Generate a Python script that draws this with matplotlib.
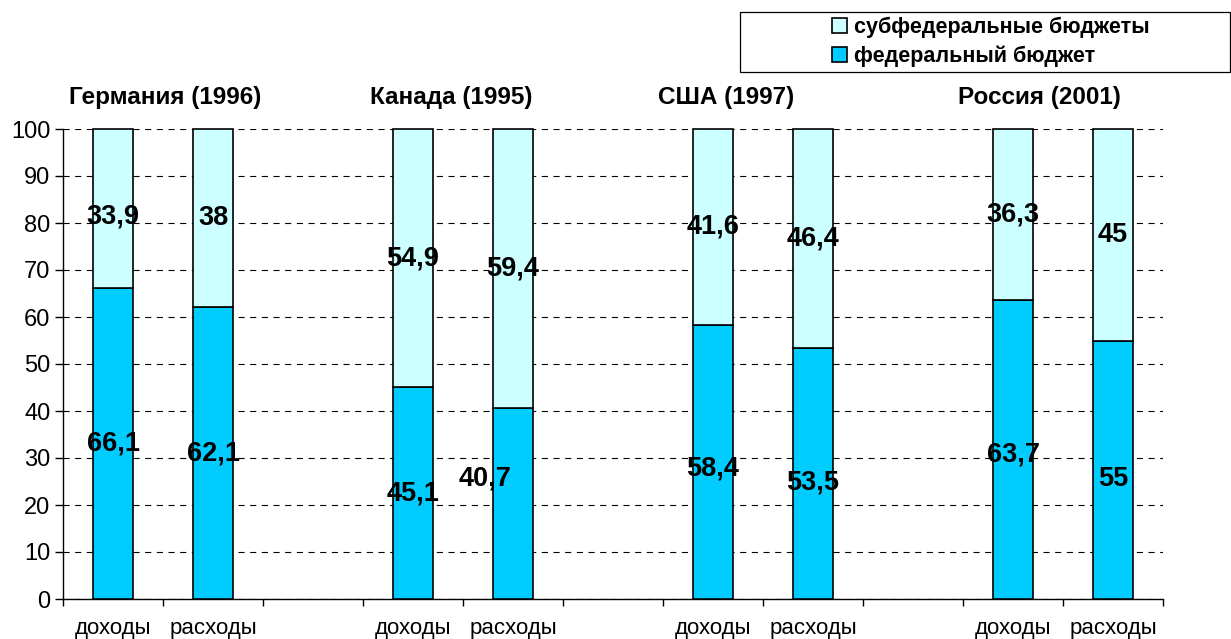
import matplotlib
matplotlib.use("Agg")
import matplotlib.pyplot as plt
from matplotlib.patches import Rectangle, Patch
import numpy as np

plt.rcParams['font.family'] = ['Liberation Sans', 'DejaVu Sans']

# ---- data ----
countries = ["Германия (1996)", "Канада (1995)", "США (1997)", "Россия (2001)"]
kinds = ["доходы", "расходы"]
federal = [66.1, 62.1, 45.1, 40.7, 58.4, 53.5, 63.7, 55.0]
subfederal = [33.9, 38.0, 54.9, 59.4, 41.6, 46.4, 36.3, 45.0]
federal_labels = ["66,1", "62,1", "45,1", "40,7", "58,4", "53,5", "63,7", "55"]
subfederal_labels = ["33,9", "38", "54,9", "59,4", "41,6", "46,4", "36,3", "45"]
series_names = ["субфедеральные бюджеты", "федеральный бюджет"]

# style
c_fed = "#00CCFF"
c_sub = "#CCFFFF"

W, H = 1231, 639
fig = plt.figure(figsize=(W / 100, H / 100), dpi=100)
ax = fig.add_axes([63 / W, 1 - 599 / H, 1100 / W, 470 / H])

# positions: 3 slots per country (last slot empty)
pos = []
for g in range(len(countries)):
    for k in range(len(kinds)):
        pos.append(g * 3 + k)
pos = np.array(pos)

ax.bar(pos, federal, width=0.4, color=c_fed, edgecolor="black", linewidth=1.2, zorder=3)
ax.bar(pos, subfederal, bottom=federal, width=0.4, color=c_sub, edgecolor="black",
       linewidth=1.2, zorder=3, clip_on=False)

# label nudges (x in slots, y in units)
nudge_fed = {3: (-0.28, 5.2), 4: (0, -1.5), 5: (0, -2.0), 6: (0, -1.0), 7: (0, -2.0)}
nudge_sub = {0: (0, -1.7)}
for i, x in enumerate(pos):
    dx, dy = nudge_fed.get(i, (0, 0))
    ax.text(x + dx, federal[i] / 2 + dy, federal_labels[i], ha="center", va="center",
            fontsize=19.5, fontweight="bold", zorder=5)
    dx, dy = nudge_sub.get(i, (0, 0))
    ax.text(x + dx, federal[i] + subfederal[i] / 2 + dy, subfederal_labels[i],
            ha="center", va="center", fontsize=19.5, fontweight="bold", zorder=5)

# group titles
title_x = [0.52, 3.38, 6.13, 9.26]
for tx, name in zip(title_x, countries):
    ax.text(tx, 106.8, name, ha="center", va="center", fontsize=17.5,
            fontweight="bold", clip_on=False)

ax.set_xlim(-0.5, 10.5)
ax.set_ylim(0, 100)
ax.set_yticks(np.arange(0, 101, 10))
ax.yaxis.grid(True, color="black", linestyle=(0, (5.5, 5)), linewidth=0.8, zorder=0)
ax.set_axisbelow(True)
ax.tick_params(axis="y", labelsize=17, length=6, width=1, pad=3, direction="out")

ax.set_xticks(pos)
ax.set_xticklabels([kinds[i % 2] for i in range(len(pos))])
ax.tick_params(axis="x", which="major", length=0, labelsize=16, pad=14)
ax.set_xticks(np.arange(-0.5, 10.6, 1.0), minor=True)
ax.tick_params(axis="x", which="minor", length=5, width=1, direction="out")

for s in ["top", "right"]:
    ax.spines[s].set_visible(False)
ax.spines["left"].set_linewidth(1)
ax.spines["bottom"].set_linewidth(1)

# legend
fig.patches.append(Rectangle((740 / W, 1 - 72 / H), 490 / W, 60 / H,
                             transform=fig.transFigure, fill=False,
                             edgecolor="black", linewidth=0.9))
handles = [Patch(facecolor=c_sub, edgecolor="black", linewidth=1.2),
           Patch(facecolor=c_fed, edgecolor="black", linewidth=1.2)]
fig.legend(handles, series_names, loc="center", bbox_to_anchor=(991 / W, 1 - 42 / H),
           frameon=False, prop={"size": 15.5, "weight": "bold"},
           handlelength=0.7, handleheight=0.7, handletextpad=0.3, labelspacing=0.35,
           borderpad=0)

fig.savefig("out.png", dpi=100)
